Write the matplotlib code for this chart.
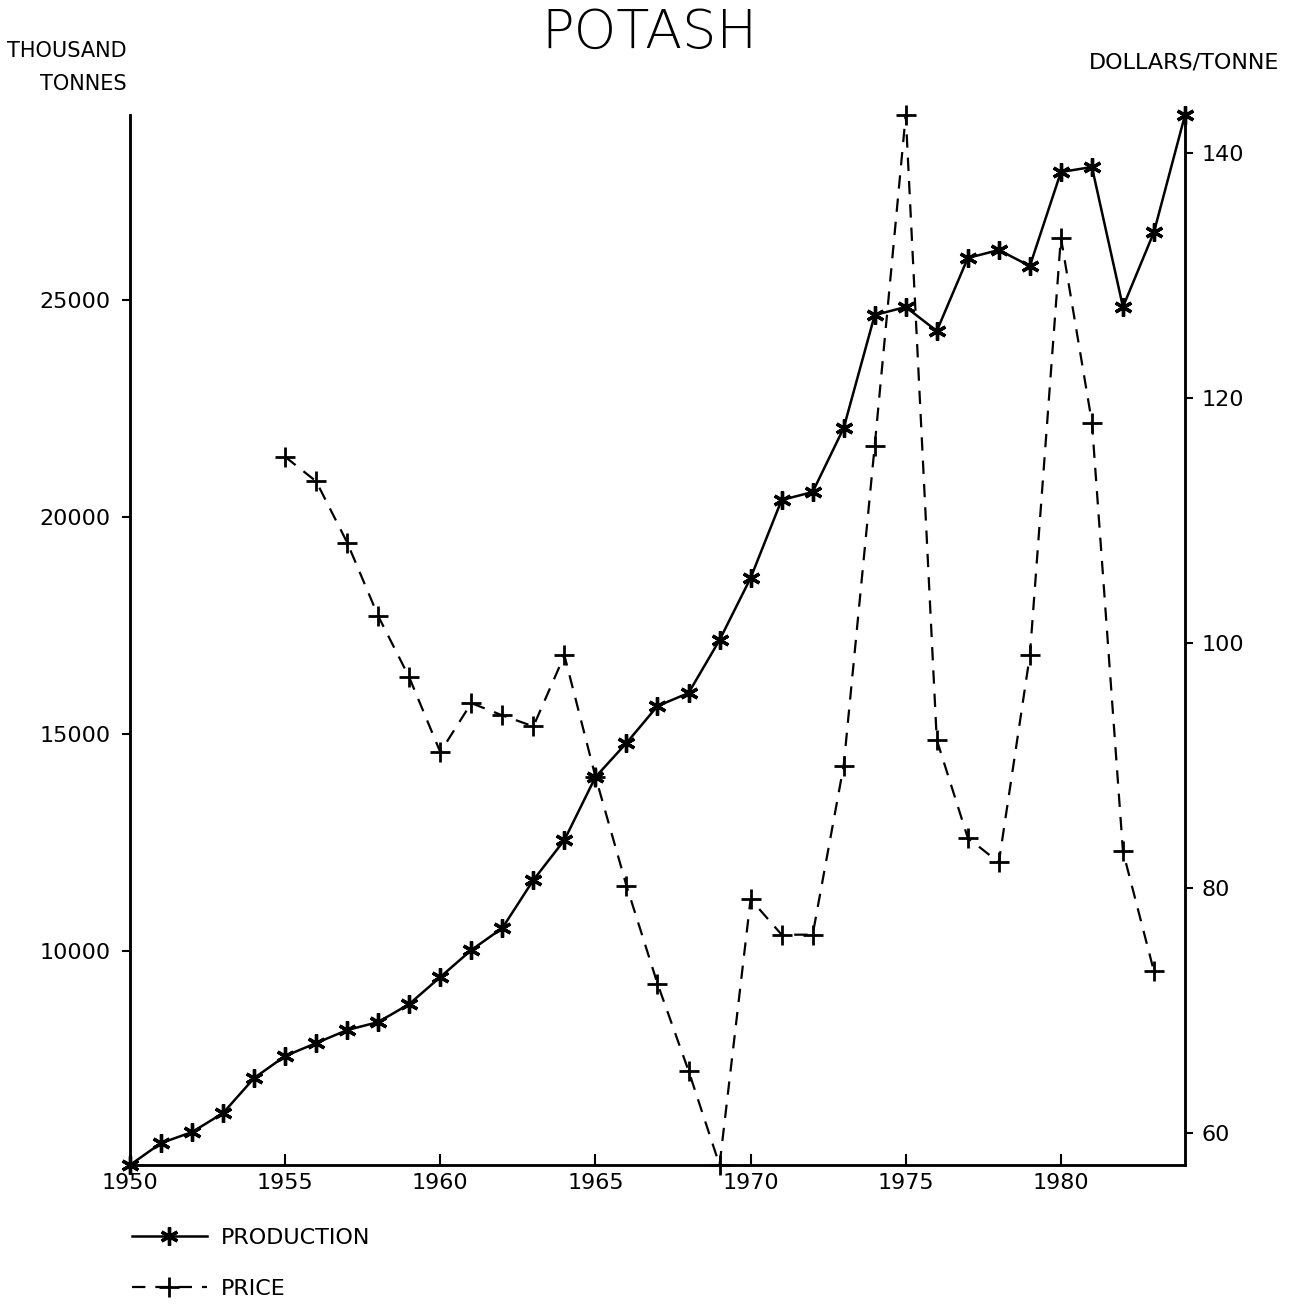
import matplotlib
matplotlib.use("Agg")
import matplotlib.pyplot as plt
from matplotlib.lines import Line2D

years = list(range(1950, 1985))
production = [5070, 5576, 5829, 6267, 7074, 7581, 7880, 8180, 8364, 8779,
              9401, 10023, 10530, 11636, 12558, 14009, 14793, 15645, 15945, 17166,
              18595, 20392, 20576, 22051, 24654, 24839, 24286, 25968, 26152, 25783,
              27949, 28064, 24839, 26567, 29263]
price_years = list(range(1955, 1984))
price = [115.2, 113.2, 108.2, 102.2, 97.2, 91.1, 95.1, 94.1, 93.2, 99.0,
         89.1, 80.2, 72.2, 65.1, 57.4, 79.1, 76.2, 76.2, 90.0, 116.1,
         143.1, 92.1, 84.1, 82.1, 99.0, 133.1, 118.0, 83.0, 73.2]
xticks = [1950, 1955, 1960, 1965, 1970, 1975, 1980]
left_ticks = [10000, 15000, 20000, 25000]
right_ticks = [60, 80, 100, 120, 140]

plt.rcParams['font.family'] = ['DejaVu Sans']
fig = plt.figure(figsize=(12.92, 13.08), dpi=100)
ax = fig.add_axes([0.1006, 0.1093, 0.8166, 0.8028])
ax2 = ax.twinx()

dash = (0, (6, 4.5))
ax.plot(years, production, color='black', lw=1.8, marker=(6, 2, 0), ms=13, mew=2.4,
        clip_on=False, zorder=3)
ax2.plot(price_years, price, color='black', lw=1.6, ls=dash, marker='+', ms=14,
         mew=2.0, clip_on=False, zorder=3)

ax.set_xlim(1950, 1984)
ax.set_ylim(min(production), max(production))
ax2.set_ylim(min(price), max(price))

ax.set_xticks(xticks)
ax.set_xticklabels([str(x) for x in xticks])
ax.set_yticks(left_ticks)
ax.set_yticklabels([str(v) for v in left_ticks])
ax2.set_yticks(right_ticks)
ax2.set_yticklabels([str(v) for v in right_ticks])

for a in (ax, ax2):
    a.spines['top'].set_visible(False)
    for s in a.spines.values():
        s.set_linewidth(1.8)

ax.tick_params(axis='x', direction='in', length=8, width=1.5, labelsize=16, pad=6)
ax.tick_params(axis='y', direction='out', length=6, width=1.5, labelsize=16, pad=8)
ax2.tick_params(axis='y', direction='out', length=6, width=1.5, labelsize=16, pad=6)

fig.text(0.503, 0.975, 'POTASH', ha='center', va='center', fontsize=39, fontweight='light')
fig.text(0.098, 0.961, 'THOUSAND', ha='right', va='center', fontsize=15)
fig.text(0.098, 0.936, 'TONNES', ha='right', va='center', fontsize=15)
fig.text(0.99, 0.952, 'DOLLARS/TONNE', ha='right', va='center', fontsize=16)

handles = [Line2D([], [], color='black', lw=1.8, marker=(6, 2, 0), ms=13, mew=2.4),
           Line2D([], [], color='black', lw=1.6, ls=dash, marker='+', ms=14, mew=2.0)]
fig.legend(handles, ['PRODUCTION', 'PRICE'], loc='upper left',
           bbox_to_anchor=(0.095, 0.068), frameon=False, fontsize=16,
           handlelength=3.4, labelspacing=1.4, handletextpad=0.6, borderaxespad=0)

fig.savefig('out.png', dpi=100)
